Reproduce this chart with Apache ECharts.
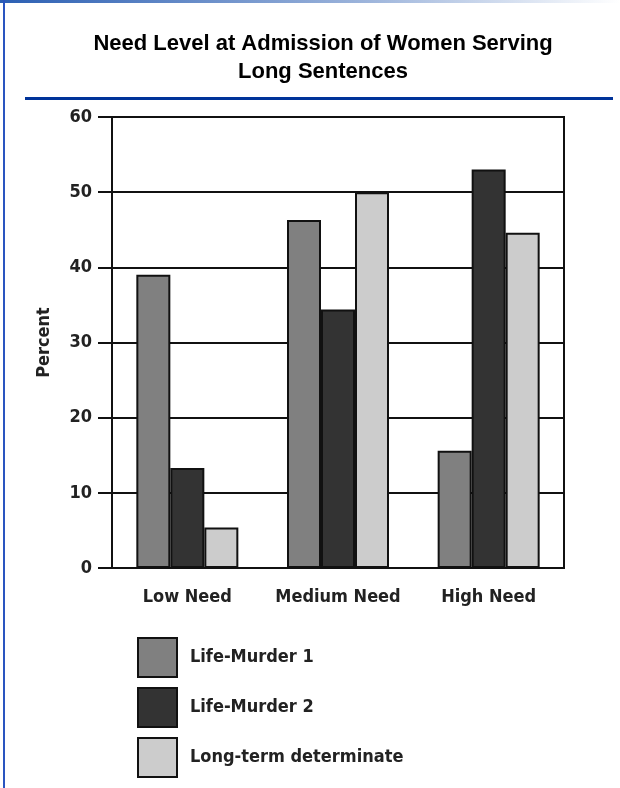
<!DOCTYPE html>
<html>
<head>
<meta charset="utf-8">
<script src="https://cdn.jsdelivr.net/npm/echarts@6/dist/echarts.min.js"></script>
<style>
html,body{margin:0;padding:0;background:#fff;}
#chart{width:620px;height:788px;}
</style>
</head>
<body>
<div id="chart"></div>
<script>
const categories = ['Low Need', 'Medium Need', 'High Need'];
const seriesNames = ['Life-Murder 1', 'Life-Murder 2', 'Long-term determinate'];
const lifeMurder1 = [39, 46.3, 15.6];
const lifeMurder2 = [13.3, 34.4, 53];
const longTerm = [5.4, 50, 44.6];
const yTicks = [0, 10, 20, 30, 40, 50, 60];

const narrow = "'Liberation Sans Narrow', 'Arial Narrow', 'DejaVu Sans Condensed', sans-serif";
const chart = echarts.init(document.getElementById('chart'), null, {renderer: 'canvas'});

function barSeries(name, data, color) {
  return {
    name: name,
    type: 'bar',
    data: data,
    barWidth: 34,
    barGap: '0%',
    itemStyle: {color: color, borderColor: '#111', borderWidth: 2},
    emphasis: {disabled: true}
  };
}

chart.setOption({
  animation: false,
  backgroundColor: '#fff',
  title: {
    text: 'Need Level at Admission of Women Serving\nLong Sentences',
    left: 318,
    textAlign: 'center',
    top: 25,
    textStyle: {
      fontFamily: "'Liberation Sans', Arial, sans-serif",
      fontWeight: 'bold',
      fontSize: 22,
      lineHeight: 28,
      color: '#000'
    }
  },
  graphic: [
    {type: 'rect', left: 0, top: 0, shape: {width: 620, height: 3},
     style: {fill: new echarts.graphic.LinearGradient(0, 0, 1, 0, [
       {offset: 0, color: '#2b5fb3'}, {offset: 0.6, color: '#9fb6dc'}, {offset: 1, color: '#ffffff'}])}},
    {type: 'rect', left: 3, top: 0, shape: {width: 2, height: 788}, style: {fill: '#2a55c0'}},
    {type: 'rect', left: 25, top: 97, shape: {width: 588, height: 3}, style: {fill: '#003399'}}
  ],
  grid: {
    left: 112, right: 56, top: 117, bottom: 220,
    show: true, borderColor: '#111', borderWidth: 2, backgroundColor: 'transparent'
  },
  legend: {
    orient: 'vertical',
    left: 137,
    top: 637,
    padding: 0,
    itemWidth: 39,
    itemHeight: 39,
    itemGap: 9,
    icon: 'rect',
    data: seriesNames,
    textStyle: {fontFamily: narrow, fontWeight: 'bold', fontSize: 18, color: '#222', padding: [0, 0, 0, 8]}
  },
  xAxis: {
    type: 'category',
    data: categories,
    axisLine: {lineStyle: {color: '#111', width: 2}},
    axisTick: {show: false},
    axisLabel: {interval: 0, fontFamily: narrow, fontWeight: 'bold', fontSize: 18, color: '#222', margin: 20}
  },
  yAxis: {
    type: 'value',
    min: yTicks[0],
    max: yTicks[yTicks.length - 1],
    interval: 10,
    name: 'Percent',
    nameLocation: 'middle',
    nameGap: 59,
    nameRotate: 90,
    nameTextStyle: {fontFamily: narrow, fontWeight: 'bold', fontSize: 18, color: '#222'},
    axisLine: {show: true, lineStyle: {color: '#111', width: 2}},
    axisTick: {show: true, length: 14, lineStyle: {color: '#111', width: 2}},
    axisLabel: {fontFamily: narrow, fontWeight: 'bold', fontSize: 18, color: '#222', margin: 20},
    splitLine: {lineStyle: {color: '#111', width: 2}}
  },
  series: [
    barSeries(seriesNames[0], lifeMurder1, '#808080'),
    barSeries(seriesNames[1], lifeMurder2, '#333333'),
    barSeries(seriesNames[2], longTerm, '#cccccc')
  ]
});
</script>
</body>
</html>
